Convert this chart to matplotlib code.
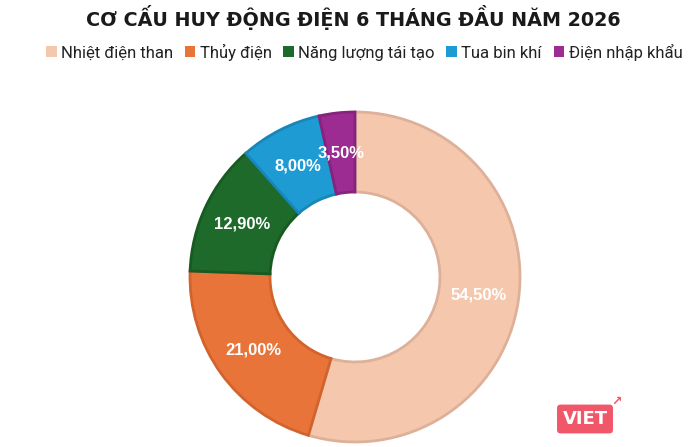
import matplotlib
matplotlib.use("Agg")
import matplotlib.pyplot as plt
from matplotlib.patches import Patch
import numpy as np

categories = ["Nhiệt điện than", "Thủy điện", "Năng lượng tái tạo", "Tua bin khí", "Điện nhập khẩu"]
values = [54.5, 21.0, 12.9, 8.0, 3.5]
labels = ["54,50%", "21,00%", "12,90%", "8,00%", "3,50%"]
colors = ["#F5C8AE", "#E97439", "#1D6A2A", "#1E9BD2", "#9C2B92"]
edges = ["#DDB09A", "#D2632D", "#175A22", "#1886B8", "#86237D"]
title = "CƠ CẤU HUY ĐỘNG ĐIỆN 6 THÁNG ĐẦU NĂM 2026"

plt.rcParams['font.family'] = ['Roboto', 'DejaVu Sans']

fig = plt.figure(figsize=(7, 4.47), dpi=100)
cx, cy, R = 355, 277, 165
ax = fig.add_axes([(cx - R) / 700, (447 - cy - R) / 447, 2 * R / 700, 2 * R / 447])

wedges, texts = ax.pie(values, startangle=90, counterclock=False, colors=colors,
                       radius=1, wedgeprops=dict(width=0.485, linewidth=2))
for w, ec in zip(wedges, edges):
    w.set_edgecolor(ec)
for w, lab in zip(wedges, labels):
    ang = np.deg2rad((w.theta1 + w.theta2) / 2)
    r = 0.758
    ax.text(r * np.cos(ang), r * np.sin(ang), lab, ha='center', va='center',
            color='white', fontsize=12, fontweight='bold', family=['Liberation Sans', 'DejaVu Sans'])
ax.set_xlim(-1, 1)
ax.set_ylim(-1, 1)
ax.set_aspect('equal')
ax.axis('off')

fig.text(353 / 700, 1 - 18 / 447, title, ha='center', va='center', fontsize=13.8,
         fontweight='bold', color='#1a1a1a', family=['DejaVu Sans'])

handles = [Patch(facecolor=c, edgecolor='none') for c in colors]
fig.legend(handles, categories, loc='center', bbox_to_anchor=(364 / 700, 1 - 52 / 447),
           ncol=5, frameon=False, fontsize=12, handlelength=0.65, handleheight=0.65,
           handletextpad=0.25, columnspacing=0.7, labelcolor='#222222')

fig.text(585 / 700, 1 - 419 / 447, "VIET", ha='center', va='center', fontsize=13,
         fontweight='bold', color='white', family=['DejaVu Sans'],
         bbox=dict(boxstyle='round,pad=0.3,rounding_size=0.2', facecolor='#F0586A', edgecolor='none'))
fig.text(617 / 700, 1 - 401 / 447, "↗", ha='center', va='center', fontsize=9,
         color='#F0586A', fontweight='bold', family=['DejaVu Sans'])

fig.savefig("out.png", dpi=100, facecolor='white')
